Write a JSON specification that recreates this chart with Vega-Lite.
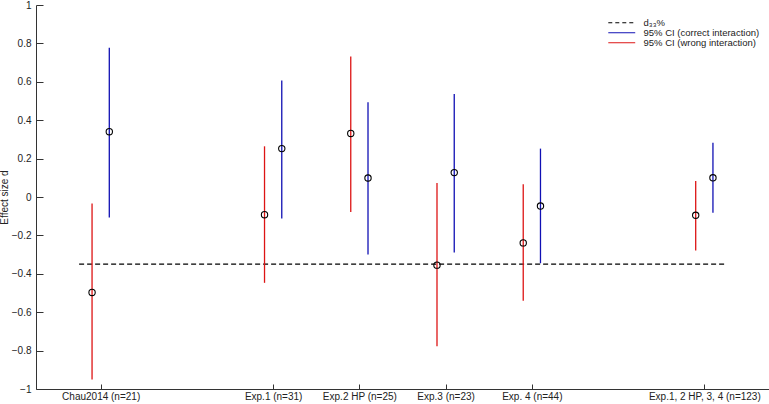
{
  "$schema": "https://vega.github.io/schema/vega-lite/v6.json",
  "width": 733,
  "height": 384,
  "autosize": {"type": "none"},
  "padding": {"left": 36, "top": 5, "right": 0, "bottom": 15},
  "background": "white",
  "config": {
    "view": {"stroke": null},
    "font": "Liberation Sans",
    "axis": {
      "grid": false,
      "domainColor": "#333333",
      "tickColor": "#333333",
      "labelColor": "#222222",
      "titleColor": "#222222",
      "labelFont": "Liberation Sans",
      "titleFont": "Liberation Sans",
      "labelFontSize": 10,
      "titleFontSize": 10,
      "titleFontWeight": "normal",
      "domainWidth": 1,
      "tickWidth": 1
    },
    "legend": {
      "labelFont": "Liberation Sans",
      "labelFontSize": 9.5,
      "labelColor": "#222222"
    }
  },
  "datasets": {
    "ci": [
      {"study": "Chau2014 (n=21)", "pos": 1, "series": "wrong", "d": -0.497, "lo": -0.95, "hi": -0.034},
      {"study": "Chau2014 (n=21)", "pos": 1, "series": "correct", "d": 0.34, "lo": -0.107, "hi": 0.777},
      {"study": "Exp.1 (n=31)", "pos": 3, "series": "wrong", "d": -0.092, "lo": -0.447, "hi": 0.264},
      {"study": "Exp.1 (n=31)", "pos": 3, "series": "correct", "d": 0.252, "lo": -0.112, "hi": 0.607},
      {"study": "Exp.2 HP (n=25)", "pos": 4, "series": "wrong", "d": 0.331, "lo": -0.078, "hi": 0.732},
      {"study": "Exp.2 HP (n=25)", "pos": 4, "series": "correct", "d": 0.099, "lo": -0.3, "hi": 0.493},
      {"study": "Exp.3 (n=23)", "pos": 5, "series": "wrong", "d": -0.355, "lo": -0.777, "hi": 0.073},
      {"study": "Exp.3 (n=23)", "pos": 5, "series": "correct", "d": 0.127, "lo": -0.289, "hi": 0.536},
      {"study": "Exp. 4 (n=44)", "pos": 6, "series": "wrong", "d": -0.239, "lo": -0.541, "hi": 0.066},
      {"study": "Exp. 4 (n=44)", "pos": 6, "series": "correct", "d": -0.047, "lo": -0.345, "hi": 0.252},
      {"study": "Exp.1, 2 HP, 3, 4 (n=123)", "pos": 8, "series": "wrong", "d": -0.095, "lo": -0.278, "hi": 0.083},
      {"study": "Exp.1, 2 HP, 3, 4 (n=123)", "pos": 8, "series": "correct", "d": 0.1, "lo": -0.082, "hi": 0.282}
    ],
    "ref": [
      {"series": "d33", "x1": 0.75, "x2": 8.25, "y": -0.35}
    ]
  },
  "layer": [
    {
      "mark": {"type": "rule", "color": "#111111", "strokeWidth": 1},
      "encoding": {"y": {"datum": 0, "type": "quantitative", "scale": {"domain": [-1, 1], "nice": false}}}
    },
    {
      "data": {"name": "ref"},
      "mark": {"type": "rule", "strokeWidth": 1.2, "strokeDash": [5, 3]},
      "encoding": {
        "x": {"field": "x1", "type": "quantitative"},
        "x2": {"field": "x2"},
        "y": {"field": "y", "type": "quantitative"},
        "color": {"field": "series", "type": "nominal"}
      }
    },
    {
      "data": {"name": "ci"},
      "transform": [{"calculate": "datum.pos + (datum.series == 'wrong' ? -0.1 : 0.1)", "as": "xp"}],
      "mark": {"type": "rule", "strokeWidth": 1.3},
      "encoding": {
        "x": {"field": "xp", "type": "quantitative"},
        "y": {"field": "lo", "type": "quantitative"},
        "y2": {"field": "hi"},
        "color": {"field": "series", "type": "nominal"}
      }
    },
    {
      "data": {"name": "ci"},
      "transform": [{"calculate": "datum.pos + (datum.series == 'wrong' ? -0.1 : 0.1)", "as": "xp"}],
      "mark": {"type": "point", "shape": "circle", "filled": false, "stroke": "#000000", "strokeWidth": 1.1, "size": 40, "opacity": 1},
      "encoding": {
        "x": {"field": "xp", "type": "quantitative"},
        "y": {"field": "d", "type": "quantitative"}
      }
    }
  ],
  "encoding": {
    "x": {
      "type": "quantitative",
      "scale": {"domain": [0.25, 8.75], "nice": false, "zero": false},
      "axis": {
        "title": null,
        "values": [1, 3, 4, 5, 6, 8],
        "tickSize": -5,
        "labelPadding": 7,
        "labelExpr": "datum.value == 1 ? 'Chau2014 (n=21)' : datum.value == 3 ? 'Exp.1 (n=31)' : datum.value == 4 ? 'Exp.2 HP (n=25)' : datum.value == 5 ? 'Exp.3 (n=23)' : datum.value == 6 ? 'Exp. 4 (n=44)' : 'Exp.1, 2 HP, 3, 4 (n=123)'"
      }
    },
    "y": {
      "type": "quantitative",
      "scale": {"domain": [-1, 1], "nice": false},
      "axis": {
        "title": "Effect size d",
        "values": [-1, -0.8, -0.6, -0.4, -0.2, 0, 0.2, 0.4, 0.6, 0.8, 1],
        "tickSize": -7,
        "labelPadding": 12,
        "titlePadding": 1.5,
        "labelExpr": "datum.value == 0 ? '0' : format(datum.value, '.1~f')"
      }
    },
    "color": {
      "scale": {"domain": ["d33", "correct", "wrong"], "range": ["#000000", "#1010b4", "#dd1414"]},
      "legend": {
        "title": null,
        "orient": "none",
        "legendX": 581,
        "legendY": 13,
        "symbolType": "M-5,0H5",
        "symbolSize": 29,
        "symbolStrokeWidth": 1.2,
        "rowPadding": -2,
        "labelOffset": 17,
        "padding": 0,
        "labelExpr": "datum.label == 'd33' ? 'd₃₃%' : datum.label == 'correct' ? '95% CI (correct interaction)' : '95% CI (wrong interaction)'",
        "encode": {
          "symbols": {
            "update": {
              "fill": {"value": "transparent"},
              "stroke": {"signal": "datum.value == 'd33' ? '#000000' : datum.value == 'correct' ? '#1010b4' : '#dd1414'"},
              "strokeDash": {"signal": "datum.value == 'd33' ? [4, 3] : [1, 0]"}
            }
          }
        }
      }
    }
  }
}
